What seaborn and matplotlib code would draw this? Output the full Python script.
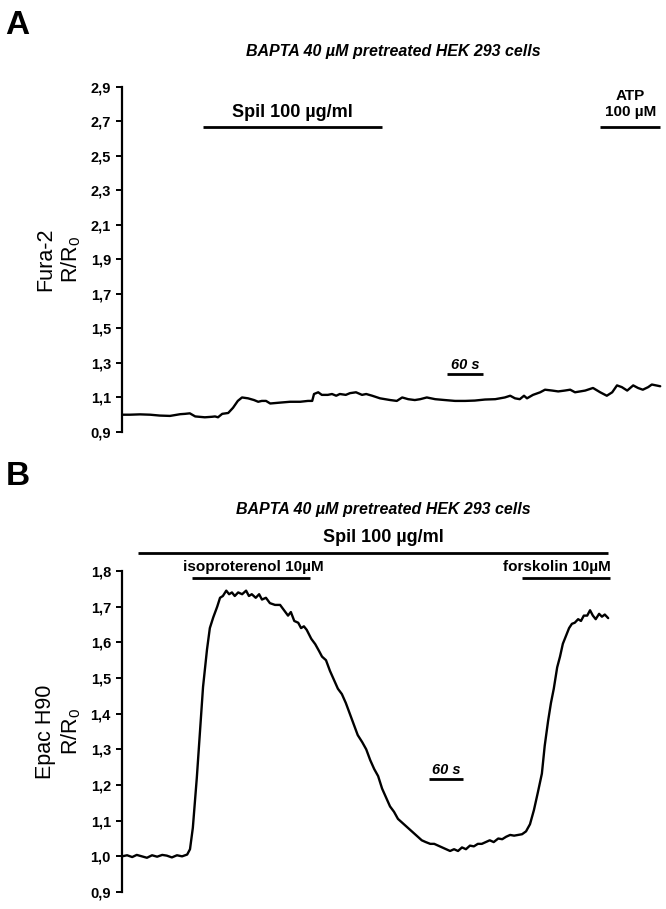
import numpy as np
import pandas as pd
import seaborn as sns
import matplotlib.pyplot as plt

# panel A: Fura-2 trace (time in s, ratio R/R0)
time_a = [0, 13, 30, 47, 63, 80, 97, 105, 113, 122, 138, 150, 155, 160, 167, 177, 185, 193,
          200, 210, 220, 227, 233, 240, 247, 263, 280, 297, 310, 317, 320, 327, 333, 343, 350,
          357, 363, 373, 380, 390, 400, 407, 417, 430, 447, 458, 467, 477, 488, 497, 508, 522,
          538, 555, 572, 588, 605, 622, 630, 638, 647, 655, 663, 670, 675, 685, 697, 705, 717,
          727, 738, 747, 755, 772, 785, 797, 808, 817, 825, 833, 842, 852, 860, 868, 877, 883,
          890, 897]
ratio_a = [1.00, 1.00, 1.002, 1.00, 0.995, 0.993, 1.003, 1.005, 1.008, 0.99, 0.985, 0.988,
           0.99, 0.985, 1.005, 1.01, 1.04, 1.08, 1.10, 1.095, 1.085, 1.075, 1.08, 1.08, 1.065,
           1.07, 1.075, 1.075, 1.08, 1.08, 1.12, 1.13, 1.115, 1.115, 1.12, 1.11, 1.12, 1.115,
           1.125, 1.13, 1.115, 1.12, 1.11, 1.095, 1.085, 1.08, 1.10, 1.09, 1.085, 1.09, 1.10,
           1.09, 1.085, 1.08, 1.08, 1.082, 1.088, 1.09, 1.095, 1.10, 1.11, 1.095, 1.09, 1.11,
           1.095, 1.115, 1.13, 1.145, 1.14, 1.135, 1.14, 1.145, 1.13, 1.14, 1.155, 1.13, 1.11,
           1.13, 1.17, 1.16, 1.14, 1.17, 1.155, 1.145, 1.16, 1.175, 1.17, 1.165]

# panel B: Epac H90 trace
time_b = [0, 9, 18, 26, 35, 44, 53, 62, 71, 79,
          88, 97, 106, 115, 120, 125, 132, 138, 143, 150,
          155, 161, 168, 173, 178, 184, 189, 194, 199, 205,
          212, 219, 224, 229, 236, 242, 247, 254, 261, 270,
          279, 286, 293, 298, 304, 311, 316, 321, 326, 334,
          341, 348, 353, 360, 367, 374, 381, 388, 395, 402,
          409, 416, 424, 431, 438, 445, 452, 459, 466, 473,
          480, 487, 494, 501, 508, 515, 522, 529, 536, 544,
          551, 558, 565, 572, 579, 586, 593, 600, 607, 614,
          621, 628, 635, 642, 649, 656, 664, 671, 678, 685,
          692, 699, 706, 713, 720, 727, 734, 741, 746, 752,
          757, 762, 768, 773, 778, 784, 789, 794, 799, 805,
          810, 815, 821, 826, 831, 836, 842, 847, 852, 858]
ratio_b = [1.00, 1.003, 0.998, 1.004, 1.00, 0.996, 1.003, 0.999, 1.004, 1.002,
           0.997, 1.003, 1.00, 1.005, 1.02, 1.08, 1.22, 1.36, 1.475, 1.58,
           1.64, 1.67, 1.70, 1.725, 1.73, 1.745, 1.735, 1.74, 1.73, 1.74,
           1.735, 1.745, 1.73, 1.735, 1.725, 1.735, 1.72, 1.725, 1.71, 1.705,
           1.705, 1.69, 1.675, 1.685, 1.66, 1.655, 1.64, 1.645, 1.635, 1.61,
           1.595, 1.575, 1.56, 1.55, 1.52, 1.495, 1.47, 1.455, 1.43, 1.40,
           1.37, 1.34, 1.32, 1.30, 1.27, 1.245, 1.225, 1.19, 1.165, 1.14,
           1.125, 1.105, 1.095, 1.085, 1.075, 1.065, 1.055, 1.045, 1.04, 1.035,
           1.035, 1.03, 1.025, 1.02, 1.015, 1.02, 1.015, 1.025, 1.02, 1.03,
           1.028, 1.035, 1.035, 1.04, 1.045, 1.04, 1.05, 1.048, 1.055, 1.06,
           1.058, 1.06, 1.062, 1.07, 1.09, 1.13, 1.18, 1.232, 1.31, 1.38,
           1.43, 1.47, 1.53, 1.56, 1.596, 1.62, 1.64, 1.652, 1.655, 1.665,
           1.66, 1.675, 1.675, 1.69, 1.675, 1.665, 1.68, 1.672, 1.678, 1.668]

yticks_a = [0.9, 1.1, 1.3, 1.5, 1.7, 1.9, 2.1, 2.3, 2.5, 2.7, 2.9]
yticks_b = [0.9, 1.0, 1.1, 1.2, 1.3, 1.4, 1.5, 1.6, 1.7, 1.8]

title = 'BAPTA 40 µM pretreated HEK 293 cells'

sns.set_style('ticks')
plt.rcParams['font.family'] = ['Liberation Sans', 'DejaVu Sans']
plt.rcParams['mathtext.fontset'] = 'custom'
plt.rcParams['mathtext.rm'] = 'Liberation Sans'
plt.rcParams['text.color'] = 'black'
plt.rcParams['axes.labelcolor'] = 'black'

df_a = pd.DataFrame({'time': time_a, 'ratio': ratio_a})
df_b = pd.DataFrame({'time': time_b, 'ratio': ratio_b})

fig = plt.figure(figsize=(6.66, 9.09), dpi=100)
ax_a = fig.add_axes([0.1832, 0.5248, 0.8108, 0.3795])
ax_b = fig.add_axes([0.1832, 0.0187, 0.8108, 0.3531])


def style_axis(ax, ticks, ylabel):
    ax.set_yticks(ticks)
    ax.set_yticklabels([f'{t:.1f}'.replace('.', ',') for t in ticks],
                       fontsize=10.5, fontweight='bold', color='black')
    ax.set_ylim(ticks[0], ticks[-1])
    for s in ['top', 'right', 'bottom']:
        ax.spines[s].set_visible(False)
    ax.spines['left'].set_linewidth(1.6)
    ax.spines['left'].set_color('black')
    ax.tick_params(axis='y', direction='out', length=4, width=1.4, pad=4, colors='black')
    ax.set_xticks([])
    ax.set_xlabel('')
    ax.set_ylabel(ylabel, fontsize=15.5, labelpad=5, linespacing=1.2, color='black')
    ax.patch.set_visible(False)


def bar(ax, x0, x1, y, label=None, ty=None, tx=None, size=13, style='normal'):
    ax.plot([x0, x1], [y, y], color='black', lw=2, clip_on=False, solid_capstyle='butt')
    if label:
        ax.text((x0 + x1) / 2 if tx is None else tx, ty, label, ha='center', va='center',
                fontsize=size, fontweight='bold', fontstyle=style, clip_on=False,
                color='black')


# ---- A ----
sns.lineplot(data=df_a, x='time', y='ratio', ax=ax_a, color='black', lw=1.7)
ax_a.set_xlim(0, 900)
style_axis(ax_a, yticks_a, 'Fura-2\nR/R$_\\mathregular{0}$')
bar(ax_a, 135, 433, 2.668, 'Spil 100 µg/ml', 2.75)
bar(ax_a, 797, 897, 2.668, 'ATP\n100 µM', 2.80, size=11)
bar(ax_a, 542, 602, 1.238, '60 s', 1.29, size=10.5, style='italic')
fig.text(0.591, 0.943, title, ha='center', va='center', fontsize=11.5,
         fontweight='bold', fontstyle='italic', color='black')
fig.text(0.008, 0.972, 'A', ha='left', va='center', fontsize=24, fontweight='bold',
         color='black')

# ---- B ----
sns.lineplot(data=df_b, x='time', y='ratio', ax=ax_b, color='black', lw=1.7)
ax_b.set_xlim(0, 953)
style_axis(ax_b, yticks_b, 'Epac H90\nR/R$_\\mathregular{0}$')
bar(ax_b, 28, 858, 1.850, 'Spil 100 µg/ml', 1.895, tx=461)
bar(ax_b, 124, 332, 1.780, 'isoproterenol 10µM', 1.811, tx=231, size=11)
bar(ax_b, 706, 861, 1.780, 'forskolin 10µM', 1.811, tx=767, size=11)
bar(ax_b, 542, 602, 1.216, '60 s', 1.241, size=10.5, style='italic')
fig.text(0.576, 0.439, title, ha='center', va='center', fontsize=11.5,
         fontweight='bold', fontstyle='italic', color='black')
fig.text(0.008, 0.476, 'B', ha='left', va='center', fontsize=24, fontweight='bold',
         color='black')

fig.savefig('out.png', dpi=100)
